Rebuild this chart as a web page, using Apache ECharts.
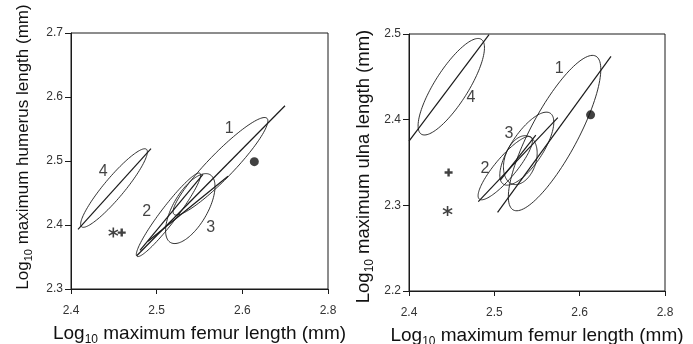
<!DOCTYPE html>
<html><head><meta charset="utf-8">
<script src="https://cdn.jsdelivr.net/npm/echarts@6/dist/echarts.min.js"></script>
<style>html,body{margin:0;padding:0;background:#fff}#c{width:693px;height:344px}</style>
</head><body><div id="c"></div>
<script>
// ---- tick labels (the original prints "2.8" at the fourth, equally spaced tick)
const xTickLabels = ['2.4', '2.5', '2.6', '2.8'];
const humerusTickLabels = ['2.3', '2.4', '2.5', '2.6', '2.7'];
const ulnaTickLabels = ['2.2', '2.3', '2.4', '2.5'];

// ---- left panel (humerus vs femur)
// ellipses: [end A x, end A y, end B x, end B y, minor/major ratio]
const humerusEllipses = [
  [2.5202, 2.4167, 2.6288, 2.5667, 0.19],
  [2.4770, 2.3511, 2.5506, 2.4808, 0.155],
  [2.5161, 2.3727, 2.5624, 2.4786, 0.435],
  [2.4123, 2.3972, 2.4881, 2.5183, 0.20]
];
// fitted lines: [x1, y1, x2, y2]
const humerusLines = [
  [2.4767, 2.3519, 2.6498, 2.5863],
  [2.4805, 2.3605, 2.5541, 2.4792],
  [2.4899, 2.3745, 2.5833, 2.4761],
  [2.4082, 2.3933, 2.4934, 2.5194]
];
const humerusLabelText = ['1', '2', '3', '4'];
const humerusLabelPos = [[2.5848, 2.5506], [2.4884, 2.4203], [2.5631, 2.3953], [2.4377, 2.4828]];
const humerusDot = [2.614, 2.499];
const humerusPlus = [2.4592, 2.3881];
const humerusStar = [2.4494, 2.3881];

// ---- right panel (ulna vs femur)
const ulnaEllipses = [
  [2.5222, 2.2946, 2.6190, 2.4741, 0.27],
  [2.4824, 2.3073, 2.5433, 2.3796, 0.26],
  [2.5105, 2.3248, 2.5656, 2.4075, 0.375],
  [2.5211, 2.3248, 2.5398, 2.3807, 0.62],
  [2.4144, 2.3831, 2.4847, 2.4938, 0.30]
];
const ulnaLines = [
  [2.5038, 2.2918, 2.6367, 2.4740],
  [2.4812, 2.3044, 2.5744, 2.4023],
  [2.5070, 2.3294, 2.5486, 2.3819],
  [2.4000, 2.3749, 2.4938, 2.4993]
];
const ulnaLabelText = ['1', '2', '3', '4'];
const ulnaLabelPos = [[2.5761, 2.4597], [2.4891, 2.3431], [2.5172, 2.3839], [2.4727, 2.4254]];
const ulnaDot = [2.6128, 2.4056];
const ulnaPlus = [2.4464, 2.3384];
const ulnaStar = [2.4452, 2.2933];

const xTitle = 'Log{s|10} maximum femur length (mm)';
const humerusTitle = 'Log{s|10} maximum humerus length (mm)';
const ulnaTitle = 'Log{s|10} maximum ulna length (mm)';

const FONT = "'Liberation Sans', Arial, Helvetica, sans-serif";
const INK = '#1a1a1a';
const STAR = 'path://M8.5 0L11.5 0L11.5 20L8.5 20Z M2.09 3.7L19.41 13.7L17.91 16.3L0.59 6.3Z M0.59 13.7L17.91 3.7L19.41 6.3L2.09 16.3Z';
const PLUS = 'path://M7 0H13V7H20V13H13V20H7V13H0V7H7Z';

function ellipseItem(params, api) {
  const p1 = api.coord([api.value(0), api.value(1)]);
  const p2 = api.coord([api.value(2), api.value(3)]);
  const r = api.value(4);
  const cx = (p1[0] + p2[0]) / 2, cy = (p1[1] + p2[1]) / 2;
  const dx = (p2[0] - p1[0]) / 2, dy = (p2[1] - p1[1]) / 2;
  const mx = -dy * r, my = dx * r;
  const pts = [];
  for (let i = 0; i <= 120; i++) {
    const t = i / 120 * 2 * Math.PI;
    pts.push([cx + dx * Math.cos(t) + mx * Math.sin(t), cy + dy * Math.cos(t) + my * Math.sin(t)]);
  }
  return { type: 'polyline', shape: { points: pts }, style: { stroke: INK, lineWidth: 0.9, fill: null } };
}
function segmentItem(params, api) {
  const p1 = api.coord([api.value(0), api.value(1)]);
  const p2 = api.coord([api.value(2), api.value(3)]);
  return { type: 'line', shape: { x1: p1[0], y1: p1[1], x2: p2[0], y2: p2[1] }, style: { stroke: INK, lineWidth: 1.2 } };
}

function titleStyle(size, padding) {
  return {
    fontSize: size, color: '#111', fontFamily: FONT, lineHeight: size + 5, padding: padding,
    rich: { s: { fontSize: Math.round(size * 0.65), lineHeight: Math.round(size * 0.65), verticalAlign: 'bottom', fontFamily: FONT, color: '#111' } }
  };
}
function xAxisCfg(gi, gap) {
  return {
    gridIndex: gi, type: 'value', min: 2.4, max: 2.7, interval: 0.1,
    axisLine: { lineStyle: { color: INK, width: 1 } },
    axisTick: { length: 5, lineStyle: { color: INK } },
    axisLabel: { formatter: v => xTickLabels[Math.round((v - 2.4) / 0.1)], color: '#333', fontSize: 12, fontFamily: FONT, margin: 16 },
    splitLine: { show: false },
    name: xTitle, nameLocation: 'middle', nameGap: gap, nameTextStyle: titleStyle(19, 0)
  };
}
function yAxisCfg(gi, min, max, labels, gap, size, padding) {
  return {
    gridIndex: gi, type: 'value', min: min, max: max, interval: 0.1,
    axisLine: { lineStyle: { color: INK, width: 1 } },
    axisTick: { length: 6, lineStyle: { color: INK } },
    axisLabel: { formatter: v => labels[Math.round((v - min) / 0.1)], color: '#333', fontSize: 12, fontFamily: FONT, margin: 8 },
    splitLine: { show: false },
    name: gi === 0 ? humerusTitle : ulnaTitle, nameLocation: 'middle', nameRotate: 90, nameGap: gap,
    nameTextStyle: titleStyle(size, padding)
  };
}
function panelSeries(gi, ellipses, lines, labelText, labelPos, dot, plus, star) {
  return [
    { type: 'custom', xAxisIndex: gi, yAxisIndex: gi, renderItem: ellipseItem, data: ellipses, silent: true, clip: false },
    { type: 'custom', xAxisIndex: gi, yAxisIndex: gi, renderItem: segmentItem, data: lines, silent: true, clip: false },
    { type: 'scatter', xAxisIndex: gi, yAxisIndex: gi, data: [dot], symbol: 'circle', symbolSize: 9, itemStyle: { color: '#111' }, silent: true },
    { type: 'scatter', xAxisIndex: gi, yAxisIndex: gi, data: [plus], symbol: PLUS, symbolSize: 8, itemStyle: { color: '#111' }, silent: true },
    { type: 'scatter', xAxisIndex: gi, yAxisIndex: gi, data: [star], symbol: STAR, symbolSize: 10, itemStyle: { color: '#111' }, silent: true },
    { type: 'scatter', xAxisIndex: gi, yAxisIndex: gi, symbolSize: 0, silent: true,
      data: labelPos.map((p, i) => ({ value: p, name: labelText[i] })),
      label: { show: true, position: 'inside', formatter: p => p.name, color: '#111', fontSize: 16, fontFamily: FONT } }
  ];
}

const chart = echarts.init(document.getElementById('c'), null, { renderer: 'canvas' });
chart.setOption({
  animation: false,
  backgroundColor: '#fff',
  grid: [
    { left: 71, top: 33, width: 257, height: 256, show: true, borderColor: INK, borderWidth: 1, outerBoundsMode: 'none', containLabel: false },
    { left: 409, top: 34, width: 256, height: 257, show: true, borderColor: INK, borderWidth: 1, outerBoundsMode: 'none', containLabel: false }
  ],
  xAxis: [xAxisCfg(0, 33), xAxisCfg(1, 30)],
  yAxis: [
    yAxisCfg(0, 2.3, 2.7, humerusTickLabels, 37, 17, [0, 0, 0, 28]),
    yAxisCfg(1, 2.2, 2.5, ulnaTickLabels, 33, 18.5, [0, 8, 0, 0])
  ],
  series: [].concat(
    panelSeries(0, humerusEllipses, humerusLines, humerusLabelText, humerusLabelPos, humerusDot, humerusPlus, humerusStar),
    panelSeries(1, ulnaEllipses, ulnaLines, ulnaLabelText, ulnaLabelPos, ulnaDot, ulnaPlus, ulnaStar)
  )
});
</script></body></html>
